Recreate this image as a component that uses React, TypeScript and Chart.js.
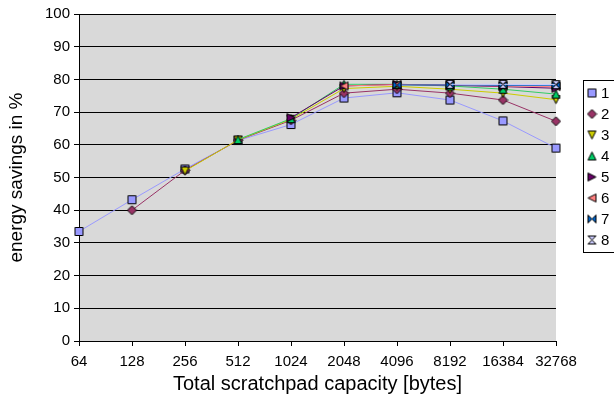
import React, { useEffect, useRef } from 'react';
import { Chart, registerables } from 'chart.js';

Chart.register(...registerables);

const xLabels = ['64', '128', '256', '512', '1024', '2048', '4096', '8192', '16384', '32768'];
const seriesNames = ['1', '2', '3', '4', '5', '6', '7', '8'];
const s1 = [33.5, 43.2, 52.6, 61.3, 66.2, 74.3, 75.9, 73.7, 67.3, 59.0];
const s2 = [null, 40.0, 52.2, 61.4, 67.5, 75.8, 77.0, 75.8, 73.7, 67.2];
const s3 = [null, null, 52.0, 61.5, 67.8, 77.2, 77.9, 77.0, 75.8, 73.8];
const s4 = [null, null, null, 61.6, 68.0, 78.5, 78.5, 78.0, 77.0, 75.5];
const s5 = [null, null, null, null, 68.3, 78.0, 78.5, 78.2, 77.8, 77.3];
const s6 = [null, null, null, null, null, 78.0, 78.4, 78.3, 78.0, 77.8];
const s7 = [null, null, null, null, null, null, 78.3, 78.3, 78.2, 78.2];
const s8 = [null, null, null, null, null, null, null, 78.5, 78.5, 78.4];
const allSeries = [s1, s2, s3, s4, s5, s6, s7, s8];

const lineColors = ['#9999FF', '#993366', '#CCCC00', '#33CC66', '#660066', '#FF8080', '#0066CC', '#CCCCFF'];
const markerFills = ['#9999FF', '#993366', '#CCCC00', '#00CC66', '#660066', '#FF8080', '#0066CC', '#CCCCFF'];
const markerShapes = ['square', 'diamond', 'down', 'up', 'right', 'left', 'bowtie', 'hourglass'];

const FONT = '"Liberation Sans", Arial, sans-serif';

function makeMarker(shape: string, fill: string): HTMLCanvasElement {
  const c = document.createElement('canvas');
  c.width = 11;
  c.height = 11;
  const g = c.getContext('2d')!;
  g.fillStyle = fill;
  g.strokeStyle = '#000';
  g.lineWidth = 1;
  g.beginPath();
  const m = 5.5;
  const r = 4;
  switch (shape) {
    case 'square':
      g.rect(m - r, m - r, 2 * r, 2 * r);
      break;
    case 'diamond':
      g.moveTo(m, m - 4.5); g.lineTo(m + 4.5, m); g.lineTo(m, m + 4.5); g.lineTo(m - 4.5, m); g.closePath();
      break;
    case 'down':
      g.moveTo(m - r, m - r); g.lineTo(m + r, m - r); g.lineTo(m, m + r); g.closePath();
      break;
    case 'up':
      g.moveTo(m - r, m + r); g.lineTo(m + r, m + r); g.lineTo(m, m - r); g.closePath();
      break;
    case 'right':
      g.moveTo(m - r, m - r); g.lineTo(m + r, m); g.lineTo(m - r, m + r); g.closePath();
      break;
    case 'left':
      g.moveTo(m + r, m - r); g.lineTo(m - r, m); g.lineTo(m + r, m + r); g.closePath();
      break;
    case 'bowtie':
      g.moveTo(m - r, m - r); g.lineTo(m, m); g.lineTo(m - r, m + r); g.closePath();
      g.moveTo(m + r, m - r); g.lineTo(m, m); g.lineTo(m + r, m + r); g.closePath();
      break;
    case 'hourglass':
      g.moveTo(m - r, m - r); g.lineTo(m + r, m - r); g.lineTo(m, m); g.closePath();
      g.moveTo(m - r, m + r); g.lineTo(m + r, m + r); g.lineTo(m, m); g.closePath();
      break;
  }
  g.fill();
  g.stroke();
  return c;
}

export default function App() {
  const ref = useRef<HTMLCanvasElement>(null);
  useEffect(() => {
    if (!ref.current) return;
    const markers = markerShapes.map((s, i) => makeMarker(s, markerFills[i]));

    const bgPlugin = {
      id: 'plotBg',
      beforeDraw(chart: any) {
        const { ctx, chartArea } = chart;
        ctx.save();
        ctx.fillStyle = '#D9D9D9';
        ctx.fillRect(chartArea.left, chartArea.top, chartArea.right - chartArea.left, chartArea.bottom - chartArea.top);
        ctx.restore();
      },
    };

    const legendPlugin = {
      id: 'boxLegend',
      afterDraw(chart: any) {
        const ctx = chart.ctx;
        const bx = 583.5, by = 80.5, bw = 40, bh = 172;
        ctx.save();
        ctx.fillStyle = '#FFFFFF';
        ctx.fillRect(bx, by, bw, bh);
        ctx.strokeStyle = '#000';
        ctx.lineWidth = 1;
        ctx.strokeRect(bx, by, bw, bh);
        ctx.font = '15px ' + FONT;
        ctx.fillStyle = '#000';
        ctx.textBaseline = 'middle';
        seriesNames.forEach((name, i) => {
          const y = 93 + i * 21;
          ctx.drawImage(markers[i], 592 - 5.5, y - 5.5);
          ctx.fillText(name, 601, y + 1);
        });
        ctx.restore();
      },
    };

    const datasets = allSeries.map((data, i) => ({
      label: seriesNames[i],
      data,
      borderColor: lineColors[i],
      backgroundColor: markerFills[i],
      borderWidth: 1,
      pointStyle: markers[i],
      pointRadius: 4,
      tension: 0,
      order: 8 - i,
    }));

    const chart = new Chart(ref.current, {
      type: 'line',
      data: { labels: xLabels, datasets },
      options: {
        animation: false,
        responsive: false,
        maintainAspectRatio: false,
        layout: { padding: { left: 0, top: 14, right: 58, bottom: 0 } },
        plugins: { legend: { display: false }, tooltip: { enabled: false } },
        scales: {
          x: {
            type: 'category',
            offset: false,
            grid: { drawOnChartArea: false, color: '#000', tickLength: 5 },
            border: { color: '#000' },
            ticks: { color: '#000', font: { family: FONT, size: 15 }, maxRotation: 0, autoSkip: false, padding: 7 },
            title: {
              display: true,
              text: 'Total scratchpad capacity [bytes]',
              color: '#000',
              font: { family: FONT, size: 20 },
              padding: { top: 0, bottom: 7 },
            },
            afterFit: (s: any) => { s.height = 62; },
          },
          y: {
            min: 0,
            max: 100,
            ticks: { stepSize: 10, color: '#000', font: { family: FONT, size: 15 }, padding: 4 },
            grid: { color: '#000', tickLength: 5 },
            border: { color: '#000' },
            title: {
              display: true,
              text: 'energy savings in %',
              color: '#000',
              font: { family: FONT, size: 19 },
              padding: { top: 5, bottom: 0 },
            },
            afterFit: (s: any) => { s.width = 79; },
          },
        },
      },
      plugins: [bgPlugin, legendPlugin],
    });
    return () => chart.destroy();
  }, []);

  return (
    <div style={{ position: 'absolute', left: 0, top: 0, width: 614, height: 403, background: '#fff' }}>
      <canvas ref={ref} width={614} height={403} style={{ width: 614, height: 403 }} />
    </div>
  );
}
